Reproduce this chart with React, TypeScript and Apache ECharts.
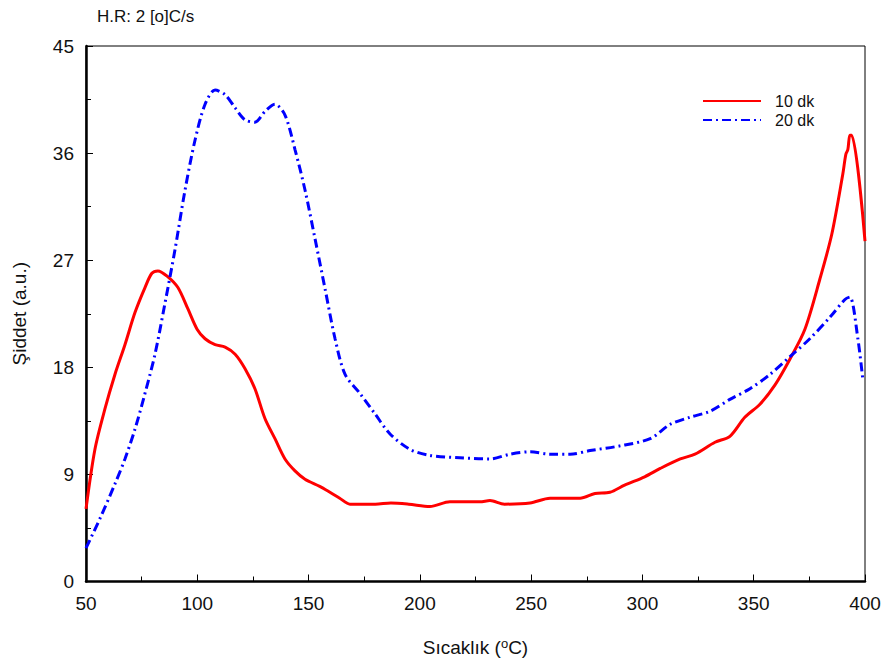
import React, { useEffect, useRef } from "react";
import * as echarts from "echarts";

const temp10 = [50, 54, 58.5, 63, 67.5, 72, 76.5, 79.6, 82.3, 86.8, 91.3, 95.8, 99.9, 103.5, 108, 112.5, 117, 121.4, 125.9, 130.4, 134.9, 139.4, 143.9, 148.4, 155, 159.6, 164, 168.6, 173, 180, 187, 195, 204.5, 213.5, 227, 231.5, 238, 249.5, 258.5, 272, 278.7, 285.4, 292, 301, 308, 317, 323.6, 332.6, 339.3, 346, 352.8, 359.5, 366.3, 373, 379.7, 385.1, 390, 391.4, 392.3, 393.2, 394, 400];
const int10 = [6.1, 11.1, 14.5, 17.4, 19.9, 22.6, 24.7, 25.9, 26.1, 25.6, 24.7, 22.9, 21.2, 20.4, 19.9, 19.7, 19.1, 17.9, 16.2, 13.7, 12.0, 10.3, 9.3, 8.6, 8.0, 7.5, 7.0, 6.5, 6.5, 6.5, 6.6, 6.5, 6.3, 6.7, 6.7, 6.8, 6.5, 6.6, 7.0, 7.0, 7.4, 7.5, 8.1, 8.8, 9.5, 10.3, 10.7, 11.7, 12.2, 13.8, 14.9, 16.5, 18.7, 21.2, 25.4, 29.2, 34.2, 35.9, 36.3, 37.5, 37.5, 28.6];

const temp20 = [50, 56.3, 63, 67.5, 72, 76.5, 81, 85.4, 90, 94.5, 99, 103.5, 108, 112.5, 117, 121.4, 125.9, 130.4, 134.9, 139.4, 143.9, 148.4, 152.9, 157.4, 161.9, 166.4, 173.1, 179.8, 186.6, 195.6, 204.5, 218, 231.5, 240.5, 249.5, 258.5, 267.5, 276.5, 290, 303.5, 312.4, 321.3, 330.3, 339.3, 348.3, 357.3, 366.3, 375.2, 384.2, 391, 393.2, 396.8, 399];
const int20 = [2.8, 5.3, 8.2, 10.3, 12.8, 15.8, 19.1, 23.3, 27.9, 32.9, 37.1, 40.1, 41.3, 40.9, 39.8, 38.8, 38.6, 39.5, 40.1, 39.2, 36.3, 32.9, 28.8, 24.6, 20.4, 17.4, 15.8, 14.1, 12.4, 11.1, 10.6, 10.4, 10.3, 10.7, 10.9, 10.7, 10.7, 11.0, 11.4, 12.0, 13.2, 13.8, 14.3, 15.3, 16.2, 17.4, 18.9, 20.4, 22.2, 23.7, 23.9, 20.4, 17.0];

const seriesNames = ["10 dk", "20 dk"];
const titleText = "H.R: 2 [o]C/s";

const FONT = "Liberation Sans, Arial, sans-serif";

export default function App() {
  const ref = useRef<HTMLDivElement>(null);
  useEffect(() => {
    if (!ref.current) return;
    const chart = echarts.init(ref.current, null, { renderer: "svg" });
    chart.setOption({
      animation: false,
      backgroundColor: "#fff",
      textStyle: { fontFamily: FONT },
      title: {
        text: titleText,
        left: 92,
        top: 3,
        textStyle: { fontSize: 17, fontWeight: "normal", color: "#111", fontFamily: FONT },
      },
      legend: {
        orient: "vertical",
        left: 697,
        top: 88,
        itemWidth: 58,
        itemHeight: 14,
        itemGap: 3,
        itemStyle: { opacity: 0 },
        textStyle: { fontSize: 16, color: "#111", padding: [0, 0, 0, 9], fontFamily: FONT },
        data: seriesNames,
      },
      grid: {
        left: 86,
        top: 46,
        right: 20,
        bottom: 79,
        show: true,
        borderColor: "#000",
        borderWidth: 1,
      },
      xAxis: {
        type: "value",
        min: 50,
        max: 400,
        interval: 50,
        name: "Sıcaklık ({sup|o}C)",
        nameLocation: "middle",
        nameGap: 55,
        nameTextStyle: {
          fontSize: 19,
          color: "#111",
          fontFamily: FONT,
          rich: { sup: { fontSize: 13, verticalAlign: "top", padding: [0, 0, 9, 0], color: "#111", fontFamily: FONT } },
        },
        axisLine: { lineStyle: { color: "#000", width: 2.5 } },
        axisTick: { inside: true, length: 7, lineStyle: { color: "#000" } },
        minorTick: { show: true, splitNumber: 2, length: 5, lineStyle: { color: "#000" } },
        axisLabel: { fontSize: 19, color: "#111", margin: 12, fontFamily: FONT },
        splitLine: { show: false },
      },
      yAxis: {
        type: "value",
        min: 0,
        max: 45,
        interval: 9,
        name: "Şiddet (a.u.)",
        nameLocation: "middle",
        nameGap: 57,
        nameRotate: 90,
        nameTextStyle: { fontSize: 19, color: "#111", fontFamily: FONT },
        axisLine: { lineStyle: { color: "#000", width: 2.5 } },
        axisTick: { inside: true, length: 7, lineStyle: { color: "#000" } },
        minorTick: { show: true, splitNumber: 2, length: 5, lineStyle: { color: "#000" } },
        axisLabel: { fontSize: 19, color: "#111", margin: 12, padding: [6, 0, 0, 0], fontFamily: FONT },
        splitLine: { show: false },
      },
      series: [
        {
          name: seriesNames[0],
          type: "line",
          data: temp10.map((t, i) => [t, int10[i]]),
          smooth: 0.3,
          symbol: "none",
          lineStyle: { color: "#ff0000", width: 3 },
          itemStyle: { color: "#ff0000" },
        },
        {
          name: seriesNames[1],
          type: "line",
          data: temp20.map((t, i) => [t, int20[i]]),
          smooth: 0.3,
          symbol: "none",
          lineStyle: { color: "#0000ff", width: 3, type: [9, 4, 2, 4] },
          itemStyle: { color: "#0000ff" },
        },
      ],
    });
    return () => chart.dispose();
  }, []);
  return <div ref={ref} style={{ width: 885, height: 662, position: "absolute", left: 0, top: 0 }} />;
}
